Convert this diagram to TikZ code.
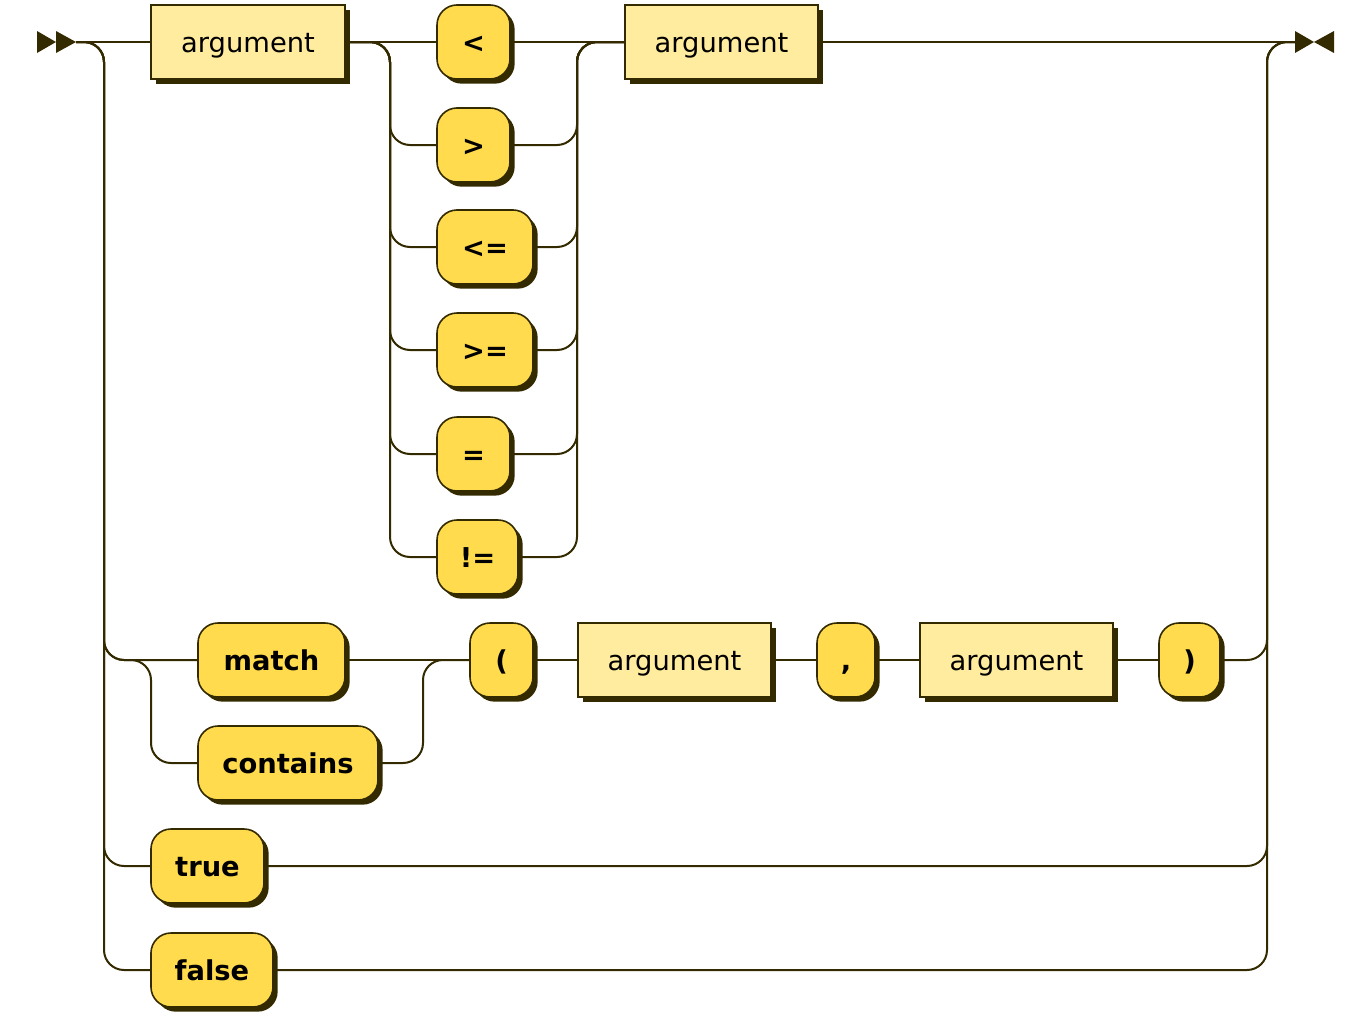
\documentclass[tikz,border=0pt]{standalone}
\usepackage{fontspec}
\setmainfont{DejaVu Sans}
\usetikzlibrary{shadows}
\definecolor{rr}{HTML}{332A00}
\definecolor{termfill}{HTML}{FFDB4D}
\definecolor{ntfill}{HTML}{FFEC9E}
\tikzset{
  rail/.style={draw=rr, line width=1.5pt, rounded corners=15pt},
  boxbase/.style={draw=rr, line width=1.2pt, minimum height=55.5pt, inner sep=0pt,
     text height=20pt, text depth=5pt,
     font=\fontsize{20.5}{24}\selectfont, text=black,
     drop shadow={shadow xshift=3.5pt, shadow yshift=-3.5pt, fill=rr, opacity=1}},
  nonterm/.style={boxbase, rectangle, fill=ntfill},
  term/.style={boxbase, rectangle, rounded corners=15pt, fill=termfill, font=\fontsize{20.5}{24}\selectfont\bfseries},
  tip/.style={fill=rr, draw=none}
}
\begin{document}
\begin{tikzpicture}[x=0.75pt,y=-0.75pt]
\useasboundingbox (0,0) rectangle (1350,1028);
% rails coordinates
\coordinate (start) at (76,42);
\coordinate (end) at (1295,42);
% nodes
\node[nonterm, minimum width=145.5pt] (arg1) at (248,42) {argument};
\node[term, minimum width=54.75pt] (lt) at (473.5,42) {<};
\node[term, minimum width=54.75pt] (gt) at (473.5,145) {>};
\node[term, minimum width=72pt] (le) at (485,247) {<=};
\node[term, minimum width=72pt] (ge) at (485,350) {>=};
\node[term, minimum width=54.75pt] (eq) at (473.5,454) {=};
\node[term, minimum width=60.75pt] (ne) at (477.5,557) {!=};
\node[nonterm, minimum width=144.75pt] (arg2) at (721.5,42) {argument};
\node[term, minimum width=110.25pt] (match) at (271.5,660) {match};
\node[term, minimum width=135pt] (contains) at (288,763) {contains};
\node[term, minimum width=47.25pt] (lp) at (501.5,660) {(};
\node[nonterm, minimum width=144.75pt] (arg3) at (674.5,660) {argument};
\node[term, minimum width=43.5pt] (comma) at (846,660) {,};
\node[nonterm, minimum width=144.75pt] (arg4) at (1016.5,660) {argument};
\node[term, minimum width=45.75pt] (rp) at (1189.5,660) {)};
\node[term, minimum width=84.75pt] (true) at (207.5,866) {true};
\node[term, minimum width=91.5pt] (false) at (212,970) {false};
% start / end markers
\fill[tip] (37,31) -- (56,42) -- (37,53) -- cycle;
\fill[tip] (56,31) -- (76,42) -- (56,53) -- cycle;
\fill[tip] (1295,31) -- (1314,42) -- (1295,53) -- cycle;
\fill[tip] (1334,31) -- (1314,42) -- (1334,53) -- cycle;
% main line
\draw[rail] (start) -- (arg1.west);
\draw[rail] (arg1.east) -- (lt.west);
\draw[rail] (lt.east) -- (arg2.west);
\draw[rail] (arg2.east) -- (end);
% operator alternatives
\foreach \n in {gt,le,ge,eq,ne}{
  \draw[rail] (arg1.east) -- (390,42) |- (\n.west);
  \draw[rail] (\n.east) -| (577,42) -- (arg2.west);
}
% main alternatives from start
\draw[rail] (start) -- (104,42) |- (match.west);
\draw[rail] (start) -- (104,42) |- (151,660) |- (contains.west);
\draw[rail] (start) -- (104,42) |- (true.west);
\draw[rail] (start) -- (104,42) |- (false.west);
% match / contains sequence
\draw[rail] (match.east) -- (lp.west);
\draw[rail] (contains.east) -| (423,660) -- (lp.west);
\draw[rail] (lp.east) -- (arg3.west);
\draw[rail] (arg3.east) -- (comma.west);
\draw[rail] (comma.east) -- (arg4.west);
\draw[rail] (arg4.east) -- (rp.west);
% to end
\draw[rail] (rp.east) -| (1267,42) -- (end);
\draw[rail] (true.east) -| (1267,42) -- (end);
\draw[rail] (false.east) -| (1267,42) -- (end);
\end{tikzpicture}
\end{document}
